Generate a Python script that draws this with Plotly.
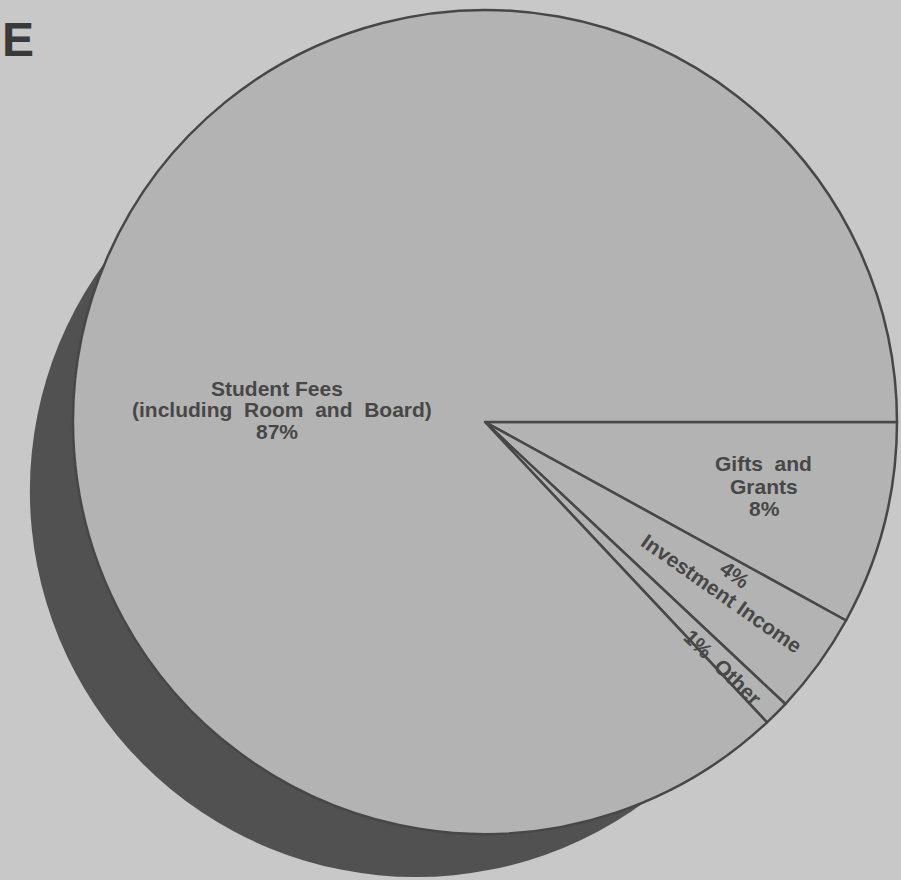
import plotly.graph_objects as go

# Sources of college income, in percent (clockwise from 3 o'clock)
labels = ["Gifts and Grants", "Investment Income", "Other",
          "Student Fees (including Room and Board)"]
values = [8, 4, 1, 87]

BG = "#c8c8c8"
FACE = "#b3b3b3"
INK = "#474747"
SHADOW = "#515151"

W, H = 901, 880
CX, CY, R = 485, 422, 412
FAM = "Liberation Sans, Arial, sans-serif"
FS = 21


def dom(cx, cy, r):
    """Square pie domain in paper units from a pixel centre and radius."""
    return dict(x=[(cx - r) / W, (cx + r) / W],
                y=[(H - cy - r) / H, (H - cy + r) / H])


def label(x, y, text, angle=0, size=FS):
    """Bold slice label centred on a pixel position."""
    fig.add_annotation(
        x=x / W, y=1 - y / H, xref="paper", yref="paper",
        text="<b>" + text + "</b>", textangle=angle, showarrow=False,
        xanchor="center", yanchor="middle", align="center",
        font=dict(family=FAM, size=size, color=INK),
    )


fig = go.Figure()

# drop shadow disc behind the pie
fig.add_trace(go.Pie(
    values=[1], labels=["shadow"], domain=dom(416, 491, 386),
    marker=dict(colors=[SHADOW], line=dict(width=0)),
    textinfo="none", hoverinfo="skip", showlegend=False, sort=False,
))

fig.add_trace(go.Pie(
    values=values, labels=labels, domain=dom(CX, CY, R),
    sort=False, direction="clockwise", rotation=90,
    marker=dict(colors=[FACE] * len(values), line=dict(color=INK, width=2.5)),
    textinfo="none", showlegend=False,
))

pct = [f"{v}%" for v in values]

# Student Fees, three stacked lines
fees_main, fees_sub = labels[3].split(" (")
label(277, 388, fees_main)
label(282, 410, "(" + fees_sub.replace(" ", "  "))
label(277, 431, pct[3])

# Gifts and Grants
gifts_a, gifts_b = labels[0].rsplit(" ", 1)
label(763, 464, gifts_a.replace(" ", "  "))
label(764, 486, gifts_b)
label(764, 508, pct[0])

# Investment Income, set along the slice
label(735, 574, pct[1], angle=36)
label(722, 593, labels[1], angle=35)

# Other
label(723, 667, pct[2] + "  " + labels[2], angle=44)

# title letter at the top-left edge
fig.add_annotation(
    x=0, y=1 - 40 / H, xref="paper", yref="paper", text="<b>E</b>",
    showarrow=False, xanchor="left", yanchor="middle",
    font=dict(family=FAM, size=48, color="#3a3a3a"),
)

fig.update_layout(
    width=W, height=H, margin=dict(l=0, r=0, t=0, b=0),
    paper_bgcolor=BG, plot_bgcolor=BG, showlegend=False,
)

fig.write_html("out.html")
